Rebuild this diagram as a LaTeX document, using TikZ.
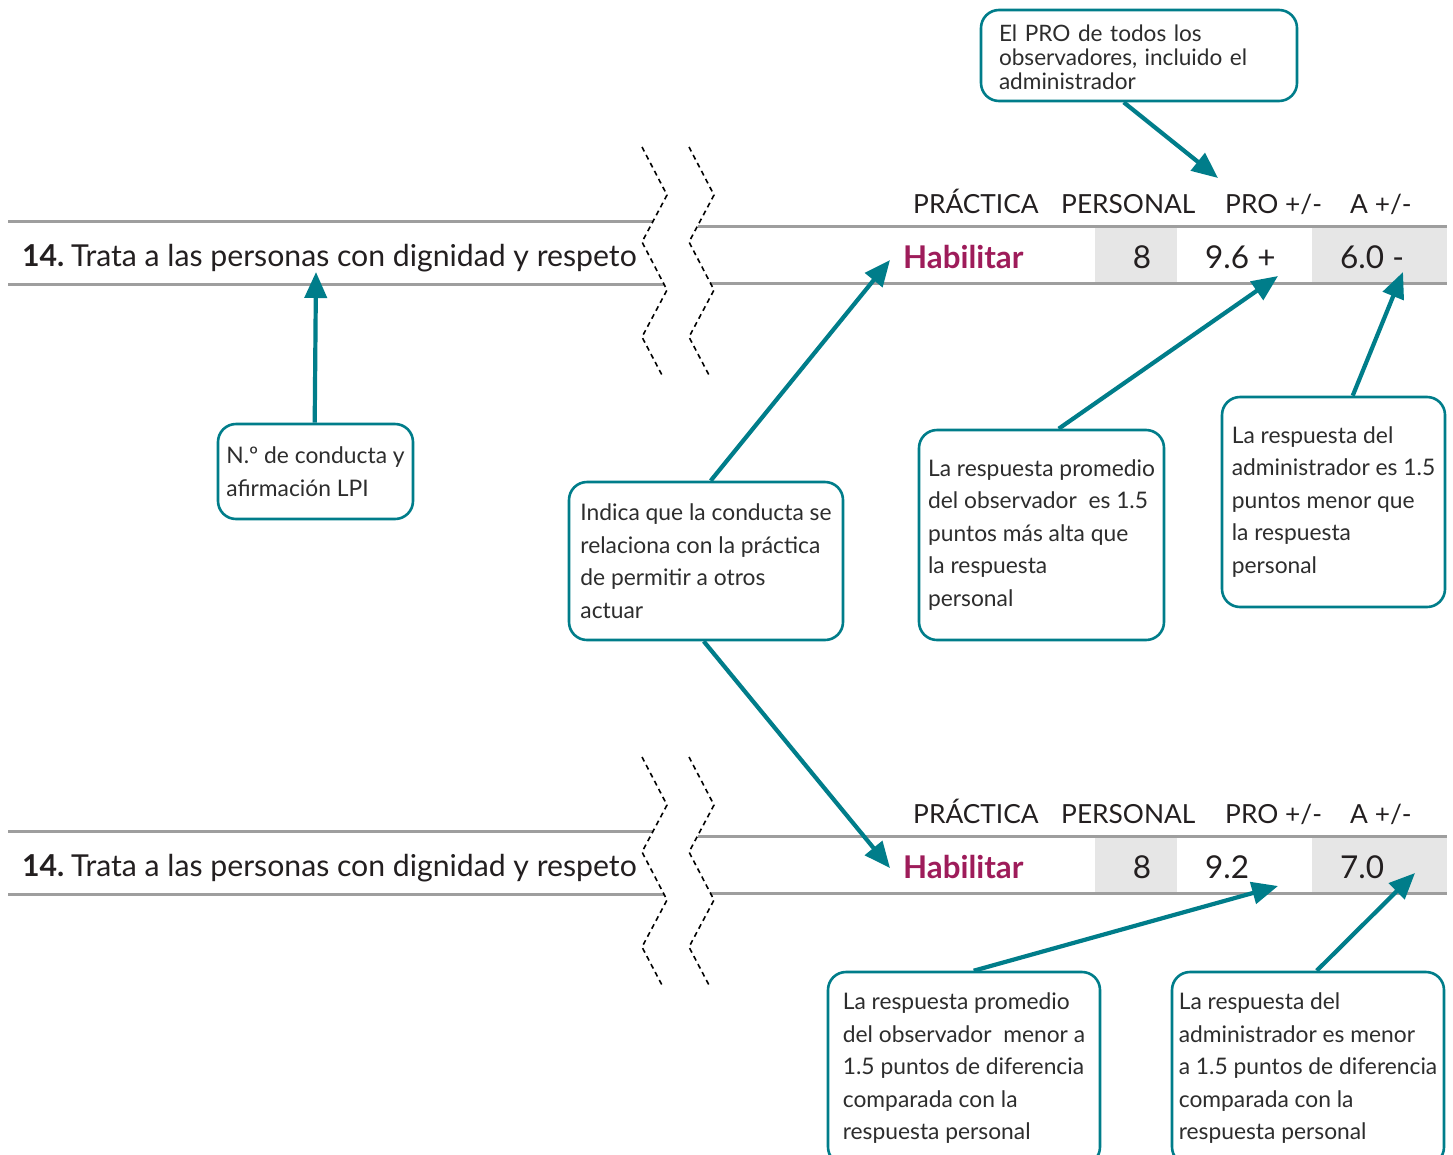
\documentclass[tikz,border=0pt]{standalone}
\usepackage{fontspec}
\setmainfont{Lato}
\usetikzlibrary{arrows.meta,calc}
\definecolor{teal1}{RGB}{0,125,138}
\definecolor{rowgray}{RGB}{158,158,158}
\definecolor{cellgray}{RGB}{230,230,230}
\definecolor{habil}{RGB}{158,28,90}
\definecolor{txt}{RGB}{35,31,32}
\definecolor{ctxt}{RGB}{45,45,45}
\tikzset{
  callout/.style={draw=teal1, line width=2.6pt, rounded corners=18pt, fill=white, text=ctxt,
    align=left, inner sep=0pt, font=\fontsize{22.8}{32.5}\selectfont},
  conn/.style={draw=teal1, line width=4.2pt, -{Triangle[length=26pt,width=22pt]}},
  rowline/.style={draw=rowgray, line width=3pt},
  zig/.style={draw=black, line width=1.6pt, dash pattern=on 5pt off 4pt},
  head/.style={anchor=base west, font=\fontsize{26.3}{26}\selectfont, text=txt, inner sep=0pt},
  rowtext/.style={anchor=base west, font=\fontsize{30.2}{31}\selectfont, text=txt, inner sep=0pt},
  habil/.style={anchor=base west, font=\fontsize{31.3}{31}\selectfont\bfseries, text=habil, inner sep=0pt},
  val/.style={anchor=base west, font=\fontsize{31.5}{31}\selectfont, text=txt, inner sep=0pt},
}
\begin{document}
\begin{tikzpicture}[x=1pt,y=-1pt]
\clip (0,0) rectangle (1453,1154);
\fill[white] (0,0) rectangle (1453,1154);

\foreach \s/\o/\p/\a in {a/0/9.6 +/6.0 -, b/610/9.2/7.0} {
  \begin{scope}[yshift=-\o pt]
    \draw[rowline] (8,221) -- (653,221);
    \draw[rowline] (8,284) -- (664,284);
    \fill[cellgray] (1095,227.5) rectangle (1177,281.5);
    \fill[cellgray] (1312,227.5) rectangle (1447,281.5);
    \draw[rowline] (697.5,226) -- (1447,226);
    \draw[rowline] (710,283) -- (1447,283);
    \draw[zig] (642,147) -- (667,195) -- (642,242) -- (667,290) -- (642,337) -- (663,377);
    \draw[zig] (689,147) -- (714,195) -- (689,242) -- (714,290) -- (689,337) -- (710,377);
    \node[rowtext] (item\s) at (22,266) {\textbf{14.}\hspace{0.22em}Trata a las personas con dignidad y respeto};
    \node[head] (hprac\s) at (913,213) {PRÁCTICA};
    \node[head] (hpers\s) at (1061,213) {PERSONAL};
    \node[head] (hpro\s) at (1225,213) {PRO +/-};
    \node[head] (ha\s) at (1350,213) {A +/-};
    \node[habil] (hab\s) at (903,268) {Habilitar};
    \node[val, anchor=base] (per\s) at (1142,268) {8};
    \node[val] (pro\s) at (1205,268) {\p};
    \node[val] (aval\s) at (1340,268) {\a};
  \end{scope}
}

% targets
\coordinate (tPRO) at (1218,178);
\coordinate (tItem) at (316,272);
\coordinate (tHabA) at (890,260);
\coordinate (tHabB) at (890,868);
\coordinate (tProA) at (1278,276);
\coordinate (tAA) at (1403,272);
\coordinate (tProB) at (1278,886);
\coordinate (tAB) at (1415,873);

% callouts
\node[callout, text width=280pt, inner xsep=18pt, minimum height=91pt,
      font=\fontsize{22.6}{24}\selectfont] (c1) at (1139,55.5)
  {\rule{0pt}{20pt}El PRO de todos los\\observadores, incluido el\\administrador};
\node[callout, minimum width=195pt, minimum height=95pt] (c2) at (315.5,471.5)
  {N.º de conducta y\\afirmación LPI};
\node[callout, minimum width=274pt, minimum height=158pt] (c3) at (706,561)
  {Indica que la conducta se\\relaciona con la práctica\\de permitir a otros\\actuar};
\node[callout, minimum width=245pt, minimum height=210pt] (c4) at (1041.5,535)
  {La respuesta promedio\\del observador~ es 1.5\\puntos más alta que\\la respuesta\\personal};
\node[callout, minimum width=223pt, minimum height=210pt] (c5) at (1333.5,502)
  {La respuesta del\\administrador es 1.5\\puntos menor que\\la respuesta\\personal};
\node[callout, minimum width=272pt, minimum height=193pt] (c6) at (964,1068.5)
  {La respuesta promedio\\del observador~ menor a\\1.5 puntos de diferencia\\comparada con la\\respuesta personal};
\node[callout, minimum width=272pt, minimum height=193pt] (c7) at (1308,1068.5)
  {La respuesta del\\administrador es menor\\a 1.5 puntos de diferencia\\comparada con la\\respuesta personal};

% connectors
\draw[conn] ($(c1.south west)+(144,0)$) -- (tPRO);
\draw[conn] ($(c2.north west)+(98,0)$) -- (tItem);
\draw[conn] ($(c3.north west)+(143,0)$) -- (tHabA);
\draw[conn] ($(c3.south west)+(136,0)$) -- (tHabB);
\draw[conn] ($(c4.north west)+(141,0)$) -- (tProA);
\draw[conn] ($(c5.north west)+(132,0)$) -- (tAA);
\draw[conn] ($(c6.north west)+(147,0)$) -- (tProB);
\draw[conn] ($(c7.north west)+(146,0)$) -- (tAB);
\end{tikzpicture}
\end{document}
